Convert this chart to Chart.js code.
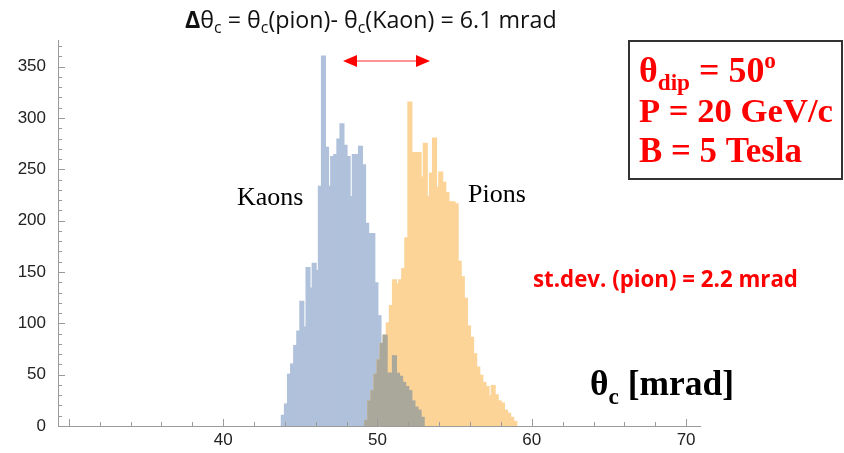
<!DOCTYPE html>
<html>
<head>
<meta charset="utf-8">
<script src="https://cdn.jsdelivr.net/npm/chart.js@4.4.1/dist/chart.umd.min.js"></script>
<style>
  html, body { margin: 0; padding: 0; background: #fff; }
  #wrap { width: 844px; height: 453px; }
</style>
</head>
<body>
<div id="wrap"><canvas id="histo" width="844" height="453"></canvas></div>
<script>
// Cherenkov angle histograms, counts per 0.2 mrad bin
const binWidth = 0.2;
const kaonFirstBin = 43.8;
const pionFirstBin = 49.2;

const kaonCounts = [
  10, 21, 50, 60, 78, 92, 121, 96, 154, 134, 158, 151, 233, 360, 271, 233,
  262, 264, 279, 294, 273, 262, 223, 264, 264, 272, 254, 197, 187, 187, 139, 107,
  80, 88, 51, 51, 68, 51, 48, 42, 38, 34, 24, 18, 15, 8
];
const pionCounts = [
  5, 24, 34, 50, 64, 80, 88, 100, 117, 142, 138, 142, 153, 183, 315, 266,
  266, 266, 242, 275, 223, 246, 280, 232, 247, 237, 227, 218, 218, 216, 160, 145,
  124, 97, 86, 70, 57, 49, 42, 38, 29, 39, 30, 24, 22, 15, 12, 8, 4
];

const xTickLabels = [40, 50, 60, 70];
const yTickLabels = [0, 50, 100, 150, 200, 250, 300, 350];

const blue = "rgb(176, 193, 219)";
const orange = "rgb(252, 212, 152)";
const grey = "rgb(170, 168, 155)";
const red = "#ff0000";
const axisGrey = "#9a9a9a";

function binCenters(first, n) {
  const out = [];
  for (let i = 0; i < n; i++) {
    out.push(Math.round((first + (i + 0.5) * binWidth) * 100) / 100);
  }
  return out;
}

const kaonX = binCenters(kaonFirstBin, kaonCounts.length);
const pionX = binCenters(pionFirstBin, pionCounts.length);

const kaonData = kaonCounts.map((c, i) => ({ x: kaonX[i], y: c }));
const pionData = pionCounts.map((c, i) => ({ x: pionX[i], y: c }));

// where both histograms overlap, the smaller one shows as grey
const shift = Math.round((pionFirstBin - kaonFirstBin) / binWidth);
const overlapData = [];
pionCounts.forEach((c, i) => {
  const k = kaonCounts[i + shift];
  if (k !== undefined) overlapData.push({ x: pionX[i], y: Math.min(c, k) });
});

// text made of pieces (sub/superscripts), optionally scaled to a given width
function drawRich(ctx, parts, x, y, width) {
  const fontOf = (p, s) => `${p.w || "normal"} ${p.size * s}px ${p.family}`;
  let s = 1;
  if (width) {
    let w = 0;
    parts.forEach((p) => {
      ctx.font = fontOf(p, 1);
      w += ctx.measureText(p.t).width;
    });
    s = width / w;
  }
  let cx = x;
  parts.forEach((p) => {
    ctx.font = fontOf(p, s);
    ctx.fillText(p.t, cx, y + (p.dy || 0) * s);
    cx += ctx.measureText(p.t).width;
  });
}

const decorations = {
  id: "decorations",
  afterDraw(chart) {
    const ctx = chart.ctx;
    const xs = chart.scales.x;
    const ys = chart.scales.y;
    const area = chart.chartArea;
    ctx.save();

    // inward ticks, Mathematica style
    ctx.strokeStyle = axisGrey;
    ctx.lineWidth = 1;
    ctx.beginPath();
    for (let v = 30; v <= 70; v += 2) {
      const px = Math.round(xs.getPixelForValue(v)) + 0.5;
      const len = v % 10 === 0 ? 7 : 4;
      ctx.moveTo(px, area.bottom);
      ctx.lineTo(px, area.bottom - len);
    }
    for (let v = 10; v <= 370; v += 10) {
      const py = Math.round(ys.getPixelForValue(v)) + 0.5;
      const len = v % 50 === 0 ? 7 : 4;
      ctx.moveTo(area.left, py);
      ctx.lineTo(area.left + len, py);
    }
    ctx.stroke();

    ctx.textBaseline = "alphabetic";
    ctx.textAlign = "left";

    // title
    ctx.fillStyle = "#111";
    const tf = "'Open Sans', sans-serif";
    drawRich(ctx, [
      { t: "Δ", size: 19, w: "bold", family: tf },
      { t: "θ", size: 19, family: tf },
      { t: "c", size: 13, family: tf, dy: 4 },
      { t: " = θ", size: 19, family: tf },
      { t: "c", size: 13, family: tf, dy: 4 },
      { t: "(pion)- θ", size: 19, family: tf },
      { t: "c", size: 13, family: tf, dy: 4 },
      { t: "(Kaon) = 6.1 mrad", size: 19, family: tf },
    ], 185, 28, 372);

    // double arrow between the two peaks
    const ay = 61;
    const ax1 = 343, ax2 = 430;
    ctx.strokeStyle = "#ff7070";
    ctx.lineWidth = 1.5;
    ctx.beginPath();
    ctx.moveTo(ax1 + 10, ay);
    ctx.lineTo(ax2 - 10, ay);
    ctx.stroke();
    ctx.fillStyle = red;
    ctx.beginPath();
    ctx.moveTo(ax1, ay);
    ctx.lineTo(ax1 + 14, ay - 6);
    ctx.lineTo(ax1 + 14, ay + 6);
    ctx.closePath();
    ctx.moveTo(ax2, ay);
    ctx.lineTo(ax2 - 14, ay - 6);
    ctx.lineTo(ax2 - 14, ay + 6);
    ctx.closePath();
    ctx.fill();

    // species labels
    const serif = "'Liberation Serif', 'Times New Roman', serif";
    ctx.fillStyle = "#000";
    ctx.font = `26px ${serif}`;
    ctx.fillText("Kaons", 237, 205);
    ctx.fillText("Pions", 468, 202);

    // parameter box
    ctx.strokeStyle = "#333";
    ctx.lineWidth = 2;
    ctx.strokeRect(629, 41, 213, 138);
    ctx.fillStyle = red;
    drawRich(ctx, [
      { t: "θ", size: 34, w: "bold", family: serif },
      { t: "dip", size: 22, w: "bold", family: serif, dy: 8 },
      { t: " = 50", size: 34, w: "bold", family: serif },
      { t: "o", size: 22, w: "bold", family: serif, dy: -13 },
    ], 639, 82, 137);
    drawRich(ctx, [{ t: "P = 20 GeV/c", size: 34, w: "bold", family: serif }], 639, 122, 194);
    drawRich(ctx, [{ t: "B = 5 Tesla", size: 34, w: "bold", family: serif }], 639, 162, 163);

    // spread of the pion peak
    drawRich(ctx, [{ t: "st.dev. (pion) = 2.2 mrad", size: 17, w: "bold", family: "'Open Sans', sans-serif" }], 533, 287, 265);

    // axis title
    ctx.fillStyle = "#000";
    drawRich(ctx, [
      { t: "θ", size: 32, w: "bold", family: serif },
      { t: "c", size: 21, w: "bold", family: serif, dy: 8 },
      { t: " [mrad]", size: 32, w: "bold", family: serif },
    ], 590, 395, 144);

    ctx.restore();
  },
};

const barStyle = {
  barPercentage: 1,
  categoryPercentage: 1,
  grouped: false,
  borderWidth: 0,
  inflateAmount: 1,
};

new Chart(document.getElementById("histo"), {
  type: "bar",
  data: {
    datasets: [
      { label: "overlap", data: overlapData, backgroundColor: grey, order: 0, ...barStyle },
      { label: "Pions", data: pionData, backgroundColor: orange, order: 1, ...barStyle },
      { label: "Kaons", data: kaonData, backgroundColor: blue, order: 2, ...barStyle },
    ],
  },
  options: {
    responsive: false,
    animation: false,
    layout: { padding: { left: 0, top: 40, right: 144, bottom: 0 } },
    plugins: {
      legend: { display: false },
      tooltip: { enabled: false },
    },
    scales: {
      x: {
        type: "linear",
        min: 29.3,
        max: 70.9,
        offset: false,
        grid: { display: false, offset: false, drawTicks: false },
        border: { display: true, color: axisGrey, width: 1 },
        afterBuildTicks: (scale) => {
          scale.ticks = xTickLabels.map((v) => ({ value: v }));
        },
        afterFit: (scale) => { scale.height = 27; },
        ticks: {
          autoSkip: false,
          maxRotation: 0,
          padding: 4,
          color: "#222",
          font: { family: "'Liberation Sans', Arial, sans-serif", size: 17 },
        },
      },
      y: {
        min: 0,
        max: 376,
        grid: { display: false, drawTicks: false },
        border: { display: true, color: axisGrey, width: 1 },
        afterBuildTicks: (scale) => {
          scale.ticks = yTickLabels.map((v) => ({ value: v }));
        },
        afterFit: (scale) => { scale.width = 58; },
        ticks: {
          autoSkip: false,
          padding: 12,
          color: "#222",
          font: { family: "'Liberation Sans', Arial, sans-serif", size: 17 },
        },
      },
    },
  },
  plugins: [decorations],
});
</script>
</body>
</html>
